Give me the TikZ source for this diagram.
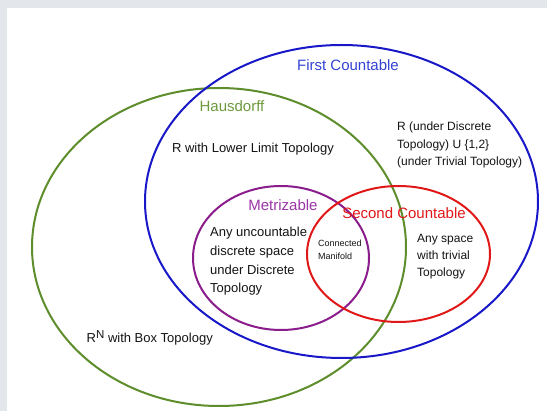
\documentclass[tikz,border=0pt]{standalone}
\usepackage{fontspec}
\setmainfont{Liberation Sans}
\definecolor{pagegray}{HTML}{E3E7EB}
\definecolor{hausgreen}{HTML}{5E8D2C}
\definecolor{hausgreentext}{HTML}{6E9A3E}
\definecolor{fcblue}{HTML}{1818C8}
\definecolor{fcbluetext}{HTML}{3444D2}
\definecolor{metpurple}{HTML}{8A1C8C}
\definecolor{metpurpletext}{HTML}{9A36A6}
\definecolor{scred}{HTML}{E01818}
\definecolor{inktext}{HTML}{141414}
\begin{document}
\begin{tikzpicture}[x=1pt,y=-1pt,
  setline/.style={line width=2pt},
  settitle/.style={inner sep=0pt,font=\fontsize{15}{18}\selectfont},
  member/.style={inner sep=0pt,text=inktext,align=left,anchor=north west},
]
% page and white panel
\fill[pagegray] (0,0) rectangle (547,411);
\fill[white] (7,8) rectangle (547,411);
\useasboundingbox (0,0) rectangle (547,411);

% the four property sets
\draw[setline,hausgreen] (219,247) ellipse [x radius=187,y radius=159];
\draw[setline,fcblue] (341.5,201.5) ellipse [x radius=196.5,y radius=156.5];
\draw[setline,metpurple] (281,258) ellipse [x radius=88,y radius=72];
\draw[setline,scred] (398.5,254) ellipse [x radius=91.5,y radius=68];

% set names
\node[settitle,text=fcbluetext] (firstc) at (348,65.6) {First Countable};
\node[settitle,text=hausgreentext] (haus) at (232,106) {Hausdorff};
\node[settitle,text=metpurpletext] (metr) at (283,205) {Metrizable};
\node[settitle,text=scred] (secondc) at (404,213) {Second Countable};

% example spaces
\node[inner sep=0pt,text=inktext,font=\fontsize{13}{16}\selectfont,anchor=base] (lowerlimit)
  at (253,152.7) {R with Lower Limit Topology};
\node[member,font=\fontsize{12}{17.7}\selectfont] (discunion) at (397,121.5)
  {R (under Discrete\\Topology) U \{1,2\}\\(under Trivial Topology)};
\node[member,font=\fontsize{13}{18.7}\selectfont] (uncount) at (210,227.2)
  {Any uncountable\\discrete space\\under Discrete\\Topology};
\node[member,font=\fontsize{9}{13.5}\selectfont] (manifold) at (318,239.6)
  {Connected\\Manifold};
\node[member,font=\fontsize{12}{17.2}\selectfont] (trivial) at (417,234.1)
  {Any space\\with trivial\\Topology};
\node[inner sep=0pt,text=inktext,font=\fontsize{13}{16}\selectfont,anchor=base west] (boxtop)
  at (86.5,342.7) {R\raisebox{4.2pt}{\fontsize{11.5}{12}\selectfont N} with Box Topology};
\end{tikzpicture}
\end{document}
